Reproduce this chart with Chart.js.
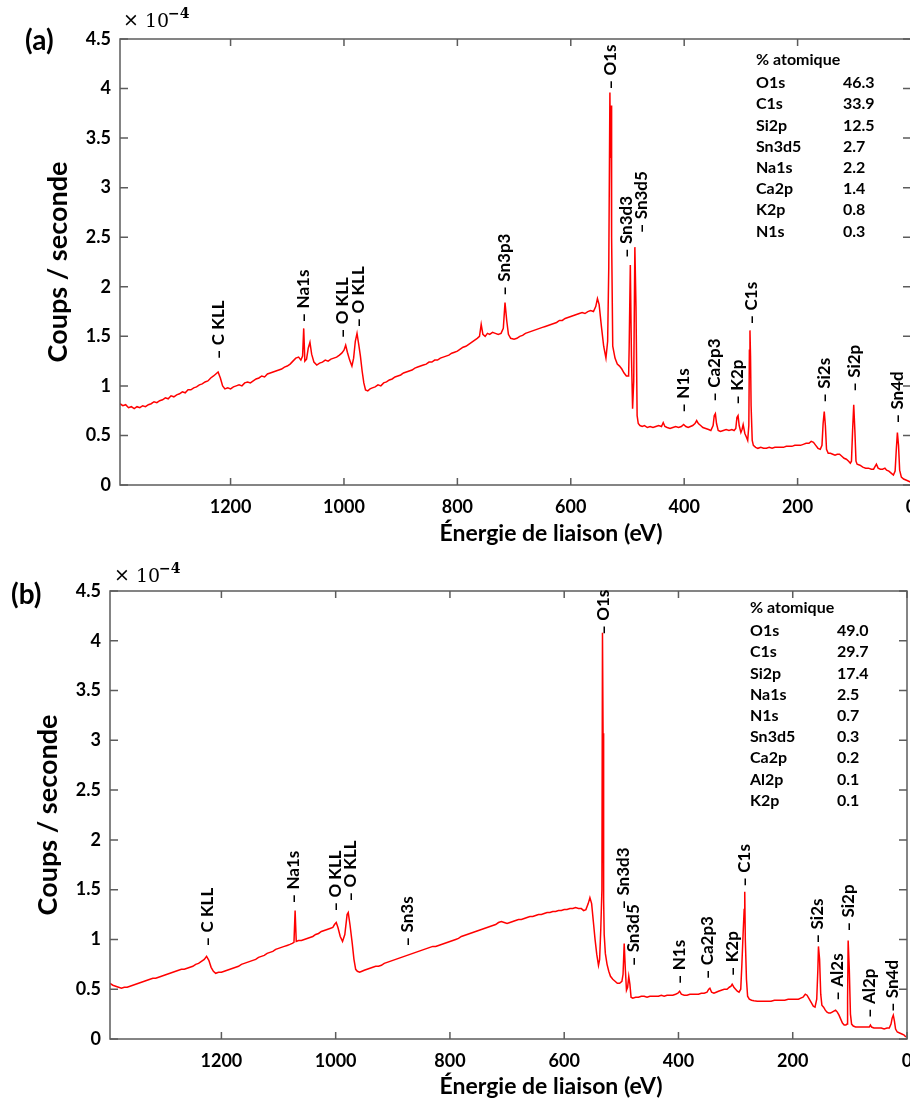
<!DOCTYPE html>
<html><head><meta charset="utf-8">
<script src="https://cdn.jsdelivr.net/npm/chart.js@4.4.0/dist/chart.umd.min.js"></script>
<style>
html,body{margin:0;padding:0;background:#fff;overflow:hidden;width:910px;height:1106px;}
.panel{position:relative;width:950px;height:553px;}
canvas{display:block;}
</style></head><body>
<div class="panel"><canvas id="cA" width="950" height="553"></canvas></div>
<div class="panel"><canvas id="cB" width="950" height="553"></canvas></div>
<script>
// ---------- data ----------
const xTickValues = [0, 200, 400, 600, 800, 1000, 1200];
const yTickValues = [0, 0.5, 1, 1.5, 2, 2.5, 3, 3.5, 4, 4.5];

const energiesA = [
1395,1390,1385,1380,1375,1370,1365,1360,1355,1350,
1345,1340,1335,1330,1325,1320,1315,1310,1305,1300,
1295,1290,1285,1280,1275,1270,1265,1260,1255,1250,
1245,1240,1235,1230,1226,1222,1218,1214,1210,1205,
1200,1195,1190,1185,1180,1175,1170,1165,1160,1155,
1150,1145,1140,1135,1130,1125,1120,1115,1110,1105,
1100,1095,1090,1085,1080,1076,1073,1071,1069,1066,
1063,1060,1057,1053,1048,1043,1038,1033,1028,1023,
1018,1013,1008,1004,1000,997,994,990,986,983,
980,977,974,971,968,965,962,958,954,950,
945,940,935,930,925,920,915,910,905,900,
895,890,885,880,875,870,865,860,855,850,
845,840,835,830,825,820,815,810,805,800,
795,790,785,780,775,770,765,761,758,755,
751,747,743,738,733,728,723,719,716,713,
710,706,700,695,690,685,680,675,670,665,
660,655,650,645,640,635,630,625,620,615,
610,605,600,595,590,585,580,575,570,565,
560,556,553,550,546,542,538,535,533,531,
530,529,528,526,522,518,514,510,506,502,
498,497,495,493,491,489,487,485,483,481,
478,474,470,465,460,455,450,445,440,437,
434,430,425,420,415,410,405,401,397,393,
389,385,381,378,375,371,367,362,357,353,
349,347,345,343,340,336,331,326,321,316,
312,309,307,305,303,300,298,296,293,290,
288,286,285,284,283,282,280,278,274,270,
265,260,255,250,245,240,235,230,225,220,
215,210,205,200,195,190,185,180,176,172,
168,164,160,157,155,153,151,149,146,142,
138,134,130,126,122,118,114,110,107,105,
103,101,99,97,95,90,85,80,75,70,
66,63,61,58,54,50,46,43,39,35,
31,28,26,24,22,20,17,13,9,5,
1];
const countsA = [
0.82,0.80,0.81,0.78,0.79,0.77,0.79,0.78,0.80,0.79,
0.81,0.82,0.84,0.83,0.85,0.86,0.88,0.87,0.90,0.89,
0.91,0.92,0.94,0.93,0.96,0.96,0.98,0.99,1.01,1.02,
1.04,1.05,1.08,1.10,1.12,1.14,1.08,1.00,0.97,0.98,
0.97,0.99,1.00,1.01,1.00,1.03,1.04,1.03,1.05,1.07,
1.08,1.10,1.09,1.12,1.13,1.14,1.15,1.16,1.17,1.19,
1.20,1.22,1.25,1.28,1.29,1.26,1.30,1.58,1.25,1.27,
1.38,1.44,1.32,1.24,1.21,1.23,1.24,1.26,1.25,1.27,
1.28,1.29,1.31,1.33,1.36,1.41,1.34,1.26,1.20,1.28,
1.45,1.53,1.42,1.30,1.15,1.03,0.96,0.95,0.97,0.98,
0.99,1.01,1.00,1.03,1.04,1.06,1.07,1.09,1.10,1.11,
1.13,1.14,1.15,1.16,1.18,1.19,1.20,1.21,1.22,1.24,
1.24,1.26,1.26,1.28,1.29,1.30,1.31,1.33,1.34,1.35,
1.37,1.39,1.40,1.42,1.44,1.46,1.48,1.50,1.62,1.52,
1.50,1.53,1.52,1.54,1.53,1.52,1.53,1.58,1.84,1.66,
1.52,1.48,1.47,1.48,1.50,1.51,1.53,1.54,1.55,1.56,
1.57,1.58,1.59,1.60,1.61,1.62,1.63,1.64,1.66,1.66,
1.68,1.69,1.70,1.71,1.72,1.73,1.74,1.73,1.75,1.76,
1.75,1.80,1.88,1.82,1.60,1.40,1.28,1.45,2.20,3.96,
3.30,3.83,2.50,1.40,1.28,1.22,1.20,1.17,1.13,1.10,
1.10,1.40,2.22,1.30,0.77,1.05,2.40,1.80,0.70,0.62,
0.60,0.59,0.60,0.58,0.59,0.58,0.59,0.60,0.59,0.63,
0.59,0.58,0.57,0.58,0.59,0.58,0.59,0.61,0.59,0.58,
0.59,0.60,0.62,0.65,0.62,0.60,0.58,0.57,0.56,0.55,
0.60,0.70,0.72,0.62,0.55,0.54,0.55,0.56,0.55,0.56,
0.55,0.57,0.68,0.70,0.60,0.53,0.56,0.61,0.52,0.48,
0.45,0.60,1.36,1.56,1.30,0.80,0.45,0.40,0.38,0.37,
0.38,0.37,0.37,0.38,0.37,0.38,0.38,0.38,0.38,0.39,
0.39,0.39,0.40,0.40,0.40,0.41,0.42,0.42,0.44,0.43,
0.40,0.37,0.36,0.40,0.62,0.74,0.60,0.36,0.32,0.32,
0.31,0.30,0.31,0.31,0.29,0.27,0.26,0.24,0.22,0.24,
0.55,0.81,0.55,0.24,0.21,0.20,0.18,0.17,0.17,0.16,
0.16,0.19,0.21,0.17,0.16,0.16,0.17,0.15,0.14,0.12,
0.10,0.14,0.35,0.53,0.40,0.15,0.08,0.06,0.05,0.04,
0.03];

const energiesB = [
1395,1390,1385,1380,1375,1370,1365,1360,1355,1350,
1345,1340,1335,1330,1325,1320,1315,1310,1305,1300,
1295,1290,1285,1280,1275,1270,1265,1260,1255,1250,
1245,1240,1235,1230,1226,1222,1218,1214,1210,1205,
1200,1195,1190,1185,1180,1175,1170,1165,1160,1155,
1150,1145,1140,1135,1130,1125,1120,1115,1110,1105,
1100,1095,1090,1085,1080,1076,1073,1071,1069,1065,
1060,1055,1050,1045,1040,1035,1030,1025,1020,1015,
1010,1005,1002,999,996,992,988,984,980,978,
975,971,968,965,962,958,954,950,945,940,
935,930,925,920,915,910,905,900,895,890,
885,880,875,870,865,860,855,850,845,840,
835,830,825,820,815,810,805,800,795,790,
785,780,775,770,765,760,755,750,745,740,
735,730,725,720,715,710,705,700,695,690,
685,680,675,670,665,660,655,650,645,640,
635,630,625,620,615,610,605,600,595,590,
585,580,575,570,566,562,558,555,552,549,
546,543,540,538,536,534,533,532,531,530,
528,525,522,519,515,511,507,503,499,497,
495,493,491,489,487,485,483,480,475,470,
465,460,455,450,445,440,435,430,425,420,
415,410,405,401,398,395,390,385,380,375,
370,365,360,355,350,347,345,342,338,334,
330,325,320,315,311,308,306,303,300,297,
294,291,289,287,285,284,283,281,279,276,
272,268,262,256,250,244,238,232,226,220,
214,208,202,196,190,186,182,178,175,172,
168,164,161,158,156,155,153,151,149,146,
143,140,137,134,131,128,125,122,119,116,
113,110,107,105,104,103,101,99,97,94,
90,85,80,75,70,66,64,62,58,54,
50,45,40,35,31,28,26,24,22,20,
17,13,9,5,2];
const countsB = [
0.56,0.54,0.53,0.52,0.51,0.52,0.52,0.53,0.54,0.55,
0.56,0.57,0.58,0.59,0.60,0.61,0.61,0.62,0.63,0.64,
0.65,0.66,0.67,0.68,0.69,0.70,0.70,0.71,0.72,0.73,
0.75,0.76,0.78,0.80,0.83,0.79,0.72,0.68,0.66,0.67,
0.67,0.68,0.69,0.70,0.71,0.72,0.73,0.75,0.76,0.77,
0.78,0.79,0.80,0.82,0.83,0.84,0.86,0.87,0.88,0.90,
0.91,0.92,0.93,0.94,0.95,0.96,0.97,1.29,0.98,0.99,
0.99,1.00,1.01,1.02,1.03,1.05,1.06,1.08,1.09,1.10,
1.11,1.12,1.15,1.17,1.12,1.03,0.98,1.05,1.25,1.27,
1.15,0.96,0.80,0.70,0.68,0.67,0.68,0.69,0.70,0.71,
0.72,0.73,0.73,0.74,0.76,0.77,0.78,0.79,0.80,0.81,
0.82,0.83,0.84,0.85,0.86,0.87,0.88,0.89,0.90,0.91,
0.92,0.93,0.93,0.94,0.95,0.96,0.97,0.98,0.99,1.00,
1.01,1.03,1.04,1.05,1.06,1.07,1.08,1.09,1.10,1.11,
1.12,1.13,1.14,1.15,1.17,1.18,1.17,1.16,1.17,1.18,
1.19,1.20,1.20,1.21,1.22,1.23,1.23,1.24,1.25,1.25,
1.26,1.27,1.27,1.28,1.28,1.29,1.29,1.30,1.30,1.31,
1.31,1.32,1.31,1.31,1.29,1.30,1.36,1.42,1.36,1.18,
1.00,0.85,0.74,0.80,1.10,1.50,4.08,3.07,1.40,1.05,
0.86,0.75,0.68,0.63,0.60,0.58,0.56,0.56,0.58,0.65,
0.96,0.70,0.49,0.52,0.63,0.55,0.42,0.41,0.42,0.42,
0.43,0.43,0.42,0.43,0.43,0.43,0.43,0.44,0.43,0.44,
0.44,0.44,0.45,0.46,0.48,0.45,0.44,0.44,0.45,0.45,
0.45,0.45,0.46,0.46,0.47,0.50,0.51,0.47,0.46,0.47,
0.48,0.49,0.50,0.50,0.52,0.53,0.55,0.52,0.50,0.48,
0.47,0.50,0.75,1.04,1.30,1.48,1.00,0.60,0.43,0.40,
0.39,0.385,0.38,0.38,0.38,0.38,0.38,0.39,0.39,0.39,
0.39,0.40,0.40,0.40,0.40,0.41,0.42,0.45,0.44,0.41,
0.37,0.33,0.32,0.40,0.70,0.93,0.80,0.45,0.34,0.32,
0.29,0.27,0.26,0.26,0.27,0.28,0.29,0.27,0.24,0.20,
0.16,0.14,0.14,0.15,0.40,0.99,0.70,0.25,0.15,0.13,
0.12,0.12,0.12,0.12,0.12,0.12,0.14,0.12,0.11,0.11,
0.11,0.11,0.10,0.11,0.11,0.15,0.21,0.24,0.18,0.10,
0.07,0.06,0.05,0.04,0.02];

const peakNamesA = ['C KLL','Na1s','O KLL','O KLL','Sn3p3','O1s','Sn3d3','Sn3d5','N1s','Ca2p3','K2p','C1s','Si2s','Si2p','Sn4d'];
const peakEnergiesA = [1222,1072,1002,975,716,530,501,475,401,347,306,281,152,100,23];
const peakBaseA = [1.27,1.64,1.48,1.59,1.91,3.99,2.29,2.54,0.73,0.84,0.81,1.62,0.83,0.94,0.62];

const peakNamesB = ['C KLL','Na1s','O KLL','O KLL','Sn3s','O1s','Sn3d3','Sn3d5','N1s','Ca2p3','K2p','C1s','Si2s','Al2s','Si2p','Al2p','Sn4d'];
const peakEnergiesB = [1224,1074,1001,974,875,531,496,478,398,350,306,284,157,121,103,65,25];
const peakBaseB = [0.93,1.36,1.28,1.38,0.93,4.06,1.30,0.73,0.55,0.60,0.63,1.53,0.96,0.385,1.08,0.21,0.27];

const compNamesA = ['O1s','C1s','Si2p','Sn3d5','Na1s','Ca2p','K2p','N1s'];
const compValuesA = [46.3,33.9,12.5,2.7,2.2,1.4,0.8,0.3];
const compNamesB = ['O1s','C1s','Si2p','Na1s','N1s','Sn3d5','Ca2p','Al2p','K2p'];
const compValuesB = [49.0,29.7,17.4,2.5,0.7,0.3,0.2,0.1,0.1];

// ---------- drawing ----------
const FONT = 'Lato, "Open Sans", sans-serif';
const SERIF = '"DejaVu Serif", "Liberation Serif", serif';

const deco = {
  id: 'deco',
  afterDatasetsDraw(chart, args, o) {
    const {ctx, chartArea: a, scales: {x, y}} = chart;
    ctx.save();
    // frame
    ctx.strokeStyle = '#5c5c5c';
    ctx.lineWidth = 1.5;
    ctx.strokeRect(a.left, a.top, a.right - a.left, a.bottom - a.top);
    ctx.beginPath();
    x.ticks.forEach(t => {
      const px = x.getPixelForValue(t.value);
      ctx.moveTo(px, a.bottom); ctx.lineTo(px, a.bottom - 7);
      ctx.moveTo(px, a.top); ctx.lineTo(px, a.top + 7);
    });
    y.ticks.forEach(t => {
      const py = y.getPixelForValue(t.value);
      ctx.moveTo(a.left, py); ctx.lineTo(a.left + 8, py);
      ctx.moveTo(a.right, py); ctx.lineTo(a.right - 8, py);
    });
    ctx.stroke();

    // peak labels
    ctx.fillStyle = '#000';
    ctx.font = 'bold 17px ' + FONT;
    ctx.textAlign = 'left';
    ctx.textBaseline = 'middle';
    o.names.forEach((n, i) => {
      const px = x.getPixelForValue(o.energies[i]);
      const py = y.getPixelForValue(o.bases[i]);
      ctx.save();
      ctx.translate(px, py);
      ctx.rotate(-Math.PI / 2);
      ctx.fillText('\u2013 ' + n, 0, 0);
      ctx.restore();
    });

    // composition table
    ctx.font = 'bold 16px ' + FONT;
    ctx.textBaseline = 'middle';
    ctx.fillText('% atomique', o.tabX, o.tabY);
    o.compNames.forEach((n, i) => {
      const yy = o.tabY + 23 + i * 21.2;
      ctx.fillText(n, o.tabX, yy);
      ctx.fillText(o.compValues[i].toFixed(1), o.tabX2, yy);
    });

    // panel tag
    ctx.font = 'bold 28px ' + FONT;
    ctx.fillText(o.tag, o.tagX, o.tagY);

    // exponent
    ctx.textBaseline = 'alphabetic';
    ctx.font = '19px ' + SERIF;
    ctx.fillText('\u00d7', o.expX, o.expY - 1);
    ctx.fillText('10', o.expX + 22, o.expY);
    ctx.font = 'bold 14px ' + SERIF;
    ctx.fillText('\u22124', o.expX + 45, o.expY - 9);

    // x title
    ctx.font = 'bold 23px ' + FONT;
    ctx.textAlign = 'center';
    ctx.textBaseline = 'middle';
    ctx.fillText('\u00c9nergie de liaison (eV)', o.xTitleX, o.xTitleY);
    ctx.restore();
  }
};

function makeChart(id, energies, counts, L, decoOpts) {
  const pts = energies.map((e, i) => ({x: e, y: counts[i]}));
  return new Chart(document.getElementById(id), {
    type: 'line',
    data: {datasets: [{data: pts, borderColor: '#ff0000', borderWidth: 1.5,
      pointRadius: 0, tension: 0, fill: false}]},
    options: {
      responsive: false, animation: false, devicePixelRatio: 1,
      parsing: false, normalized: true,
      layout: {padding: {left: 0, top: L.top, right: L.right, bottom: 0}},
      plugins: {legend: {display: false}, tooltip: {enabled: false}, deco: decoOpts},
      scales: {
        x: {
          type: 'linear', reverse: true, min: 0, max: 1395,
          grid: {display: false, drawTicks: false}, border: {display: false},
          afterBuildTicks: s => { s.ticks = xTickValues.map(v => ({value: v})); },
          ticks: {autoSkip: false, maxRotation: 0, color: '#000', padding: 11,
            font: {family: FONT, weight: 'bold', size: 18},
            callback: v => String(v)},
          afterFit: s => { s.height = L.xh; }
        },
        y: {
          type: 'linear', min: 0, max: 4.5,
          grid: {display: false, drawTicks: false}, border: {display: false},
          afterBuildTicks: s => { s.ticks = yTickValues.map(v => ({value: v})); },
          ticks: {color: '#000', padding: 9,
            font: {family: FONT, weight: 'bold', size: 18},
            callback: v => String(v)},
          title: {display: true, text: 'Coups / seconde', color: '#000',
            font: {family: FONT, weight: 'bold', size: 27},
            padding: {top: L.ytPad, bottom: 0}},
          afterFit: s => { s.width = L.yw; }
        }
      }
    },
    plugins: [deco]
  });
}

makeChart('cA', energiesA, countsA,
  {top: 39, right: 39, xh: 68, yw: 120, ytPad: 42},
  {names: peakNamesA, energies: peakEnergiesA, bases: peakBaseA,
   compNames: compNamesA, compValues: compValuesA, tabX: 756, tabX2: 843, tabY: 60,
   tag: '(a)', tagX: 25, tagY: 41, expX: 123, expY: 27, xTitleX: 551, xTitleY: 534});

makeChart('cB', energiesB, countsB,
  {top: 38, right: 43, xh: 67, yw: 110, ytPad: 32},
  {names: peakNamesB, energies: peakEnergiesB, bases: peakBaseB,
   compNames: compNamesB, compValues: compValuesB, tabX: 750, tabX2: 837, tabY: 55,
   tag: '(b)', tagX: 11, tagY: 42, expX: 114, expY: 29, xTitleX: 551, xTitleY: 534});
</script>
</body></html>
